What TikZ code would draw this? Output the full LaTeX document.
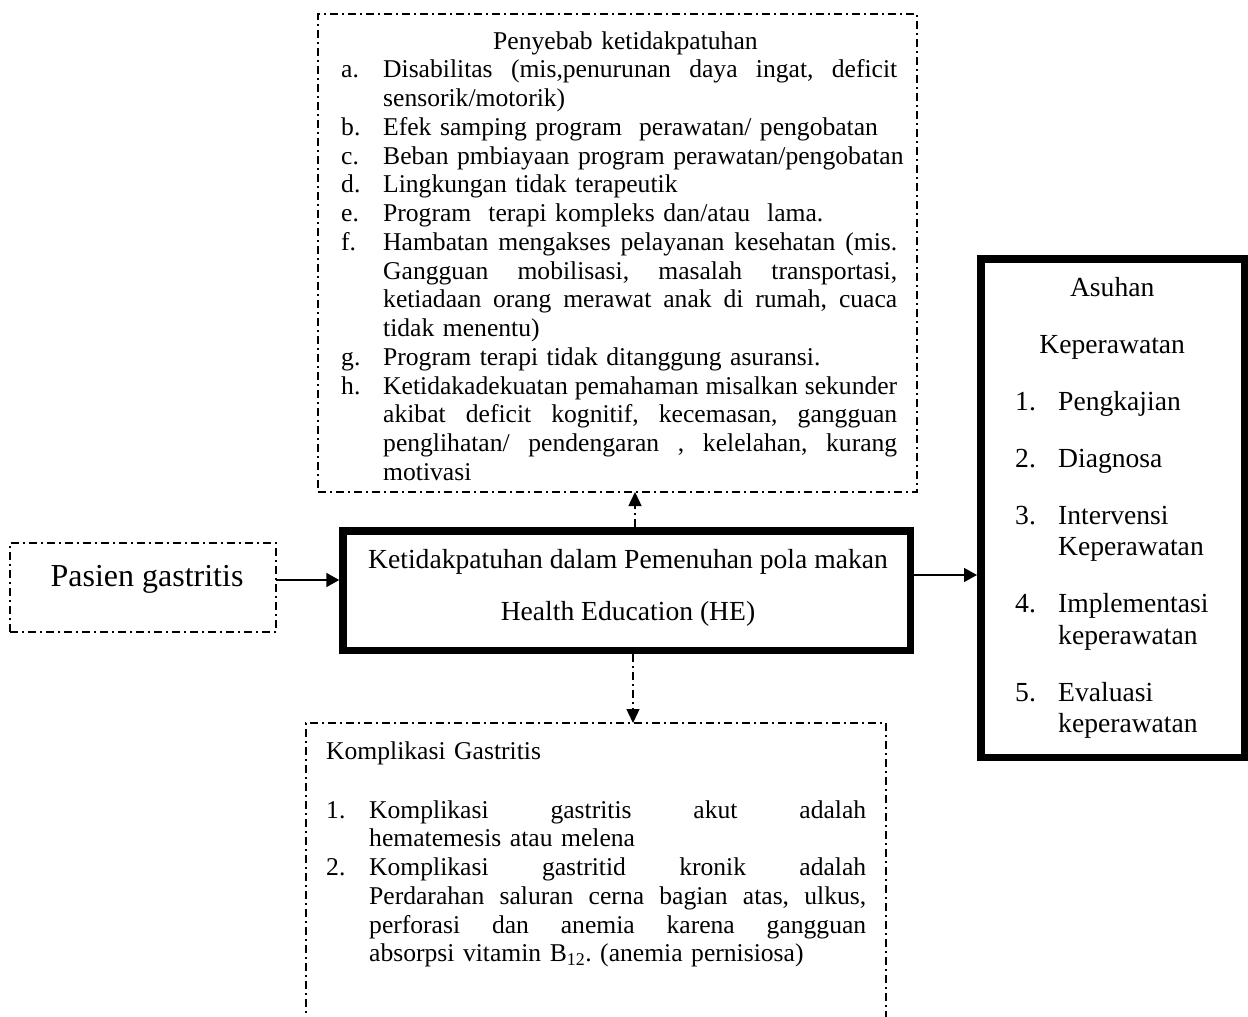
\documentclass[tikz,border=0pt]{standalone}
\usepackage{fontspec}
\setmainfont{Liberation Serif}
\usetikzlibrary{arrows.meta}
\newcommand\jline[2]{\hbox to #1{\spaceskip=.25em plus 20em\relax #2}}
\frenchspacing
\begin{document}
\begin{tikzpicture}[x=1pt,y=-1pt,
  dashdot/.style={line width=1.4pt, dash pattern=on 8pt off 4pt on 2pt off 4pt},
  dbox/.style={draw, dashdot, rectangle, inner sep=0pt, outer sep=0pt},
  tbox/.style={draw, line width=7.5pt, rectangle, inner sep=0pt},
  txt/.style={inner sep=0pt, align=left, font=\fontsize{25.6}{28.75}\selectfont},
  btxt/.style={inner sep=0pt, align=left, font=\fontsize{27.6}{31.5}\selectfont},
  arr/.style={line width=2pt, -{Triangle[length=13pt,width=14pt]}},
  darr/.style={dashdot, -{Triangle[length=14pt,width=13pt]}}
]
\useasboundingbox (0,0) rectangle (1248,1017);
\fill[white] (0,0) rectangle (1248,1017);
\clip (0,0) rectangle (1248,1017);

% boxes
\node[dbox, minimum width=599pt, minimum height=478pt] (topbox) at (617.5,253) {};
\node[dbox, minimum width=266pt, minimum height=89pt] (pas) at (143,587.5) {};
\node[tbox, minimum width=567.5pt, minimum height=119.5pt] (mid) at (626.75,590.75) {};
\node[tbox, minimum width=263.5pt, minimum height=498.5pt] (asu) at (1112.5,508) {};
\node[dbox, minimum width=580pt, minimum height=400pt, anchor=north west] (kom) at (306,723) {};

% texts
\node[txt, text width=600pt, anchor=north west] (toptext) at (341,29) {%
\rule{0pt}{20pt}\hspace*{152pt}Penyebab ketidakpatuhan\\
\makebox[42pt][l]{a.}\jline{514pt}{Disabilitas (mis,penurunan daya ingat, deficit}\\
\hspace*{42pt}sensorik/motorik)\\
\makebox[42pt][l]{b.}Efek samping program\ \ perawatan/ pengobatan\\
\makebox[42pt][l]{c.}Beban pmbiayaan program perawatan/pengobatan\\
\makebox[42pt][l]{d.}Lingkungan tidak terapeutik\\
\makebox[42pt][l]{e.}Program\ \ terapi kompleks dan/atau\ \ lama.\\
\makebox[42pt][l]{f.}\jline{514pt}{Hambatan mengakses pelayanan kesehatan (mis.}\\
\hspace*{42pt}\jline{514pt}{Gangguan mobilisasi, masalah transportasi,}\\
\hspace*{42pt}\jline{514pt}{ketiadaan orang merawat anak di rumah, cuaca}\\
\hspace*{42pt}tidak menentu)\\
\makebox[42pt][l]{g.}Program terapi tidak ditanggung asuransi.\\
\makebox[42pt][l]{h.}\jline{514pt}{Ketidakadekuatan pemahaman misalkan sekunder}\\
\hspace*{42pt}\jline{514pt}{akibat deficit kognitif, kecemasan, gangguan}\\
\hspace*{42pt}\jline{514pt}{penglihatan/ pendengaran , kelelahan, kurang}\\
\hspace*{42pt}motivasi};

\node[inner sep=0pt, anchor=base, font=\fontsize{32}{36}\selectfont] (pastext) at (147,586) {Pasien gastritis};

\node[btxt, align=center, anchor=north] (midtext) at (628,546.5) {%
\rule{0pt}{21.5pt}Ketidakpatuhan dalam Pemenuhan pola makan\\[20.5pt]
Health Education (HE)};

\node[btxt, text width=240pt, anchor=north west] (asutext) at (1015,274.5) {%
\rule{0pt}{21.5pt}\makebox[194pt][c]{Asuhan}\\[25.5pt]
\makebox[194pt][c]{Keperawatan}\\[25.5pt]
\makebox[43pt][l]{1.}Pengkajian\\[25.5pt]
\makebox[43pt][l]{2.}Diagnosa\\[25.5pt]
\makebox[43pt][l]{3.}Intervensi\\
\hspace*{43pt}Keperawatan\\[25.5pt]
\makebox[43pt][l]{4.}Implementasi\\
\hspace*{43pt}keperawatan\\[25.5pt]
\makebox[43pt][l]{5.}Evaluasi\\
\hspace*{43pt}keperawatan};

\node[txt, text width=600pt, anchor=north west] (komtext) at (326,739) {%
\rule{0pt}{20pt}Komplikasi Gastritis\\[30.25pt]
\makebox[43pt][l]{1.}\jline{497pt}{Komplikasi gastritis akut adalah}\\
\hspace*{43pt}hematemesis atau melena\\
\makebox[43pt][l]{2.}\jline{497pt}{Komplikasi gastritid kronik adalah}\\
\hspace*{43pt}\jline{497pt}{Perdarahan saluran cerna bagian atas, ulkus,}\\
\hspace*{43pt}\jline{497pt}{perforasi dan anemia karena gangguan}\\
\hspace*{43pt}absorpsi vitamin B\textsubscript{12}. (anemia pernisiosa)};

% connectors
\draw[arr] ([yshift=7.5pt]pas.east) -- ([yshift=7.5pt]pas.east -| mid.west);
\draw[arr, line width=1.5pt] ([yshift=15.75pt]mid.east) -- ([yshift=15.75pt]mid.east -| asu.west);
\draw[darr] ([xshift=8.25pt]mid.north) -- ([xshift=8.25pt]mid.north |- topbox.south);
\draw[darr] ([xshift=6.25pt]mid.south) -- ([xshift=6.25pt]mid.south |- kom.north);
\end{tikzpicture}
\end{document}
